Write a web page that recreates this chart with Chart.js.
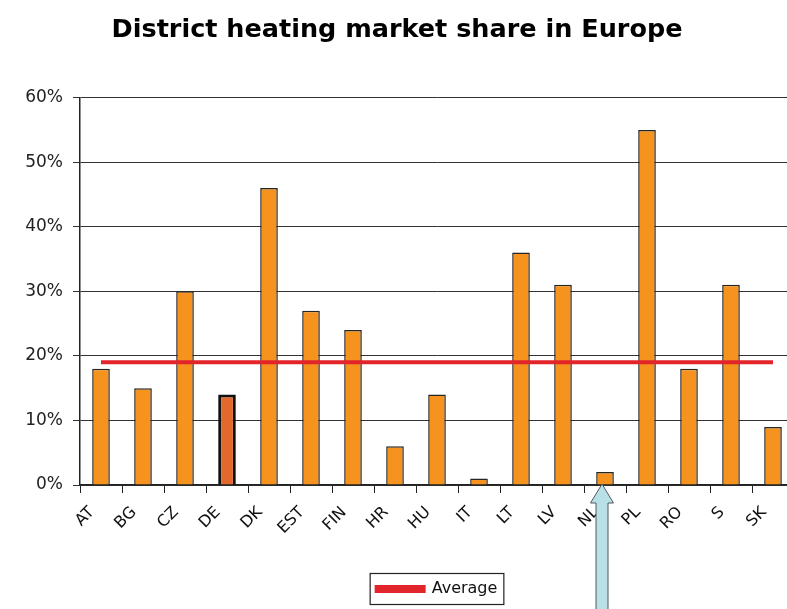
<!DOCTYPE html>
<html>
<head>
<meta charset="utf-8">
<title>District heating market share in Europe</title>
<script src="https://cdn.jsdelivr.net/npm/chart.js@4.4.1/dist/chart.umd.min.js"></script>
<style>
    html, body { margin: 0; padding: 0; background: #fff; overflow: hidden; }
    #wrap { width: 808px; height: 609px; position: relative; }
</style>
</head>
<body>
<div id="wrap"><canvas id="chart"></canvas></div>
<script>
// Market share per country, in percent
const countries = ['AT', 'BG', 'CZ', 'DE', 'DK', 'EST', 'FIN', 'HR', 'HU', 'IT', 'LT', 'LV', 'NL', 'PL', 'RO', 'S', 'SK'];
const marketShare = [18, 15, 30, 14, 46, 27, 24, 6, 14, 1, 36, 31, 2, 55, 18, 31, 9];
const averageShare = [19, 19, 19, 19, 19, 19, 19, 19, 19, 19, 19, 19, 19, 19, 19, 19, 19];
const yTicks = [0, 10, 20, 30, 40, 50, 60];

const highlighted = 'DE';   // drawn darker with a heavy border
const arrowAt = 'NL';       // blue arrow points at this country

const FONT = '"DejaVu Sans", "Liberation Sans", Arial, sans-serif';

// light blue arrow pointing up at one category
const arrowPlugin = {
    id: 'arrow',
    afterDraw(chart) {
        const { ctx } = chart;
        const x = chart.scales.x.getPixelForValue(countries.indexOf(arrowAt)) - 3;
        const tip = chart.scales.y.getPixelForValue(0) - 1;
        const headW = 11.5, headH = 19, shaftW = 6;
        const bottom = chart.height + 5;
        ctx.save();
        ctx.beginPath();
        ctx.moveTo(x, tip);
        ctx.lineTo(x + headW, tip + headH);
        ctx.lineTo(x + shaftW, tip + headH);
        ctx.lineTo(x + shaftW, bottom);
        ctx.lineTo(x - shaftW, bottom);
        ctx.lineTo(x - shaftW, tip + headH);
        ctx.lineTo(x - headW, tip + headH);
        ctx.closePath();
        ctx.fillStyle = '#b8e0e6';
        ctx.fill();
        ctx.lineWidth = 1;
        ctx.strokeStyle = '#4d5a5c';
        ctx.stroke();
        ctx.restore();
    }
};

// frame around the legend, like the spreadsheet legend box
const legendBoxPlugin = {
    id: 'legendBox',
    afterDraw(chart) {
        const hb = chart.legend && chart.legend.legendHitBoxes[0];
        if (!hb) return;
        const { ctx } = chart;
        ctx.save();
        ctx.strokeStyle = '#222';
        ctx.lineWidth = 1.2;
        ctx.strokeRect(hb.left - 6.5, hb.top - 7.5, hb.width + 13, hb.height + 15);
        ctx.restore();
    }
};

new Chart(document.getElementById('chart'), {
    data: {
        labels: countries,
        datasets: [
            {
                type: 'line',
                label: 'Average',
                data: averageShare,
                borderColor: '#e2252b',
                backgroundColor: '#e2252b',
                borderWidth: 4,
                pointRadius: 0,
                order: 0
            },
            {
                type: 'bar',
                label: 'Share',
                data: marketShare,
                backgroundColor: ctx => countries[ctx.dataIndex] === highlighted ? '#e4682c' : '#f5931e',
                borderColor: ctx => countries[ctx.dataIndex] === highlighted ? '#111' : '#262626',
                borderWidth: ctx => countries[ctx.dataIndex] === highlighted ? 3 : 1.5,
                barPercentage: 0.42,
                categoryPercentage: 1,
                order: 1
            }
        ]
    },
    options: {
        responsive: true,
        maintainAspectRatio: false,
        animation: false,
        layout: { padding: { left: 0, right: 14, top: 0, bottom: 2 } },
        plugins: {
            title: {
                display: true,
                text: 'District heating market share in Europe',
                color: '#000',
                font: { family: FONT, size: 25.5, weight: 'bold' },
                padding: { top: 15, bottom: 52 }
            },
            legend: {
                position: 'bottom',
                fullSize: false,
                labels: {
                    filter: item => item.datasetIndex === 0,
                    boxWidth: 47,
                    boxHeight: 4,
                    padding: 10,
                    color: '#111',
                    font: { family: FONT, size: 16 }
                }
            },
            tooltip: { enabled: false }
        },
        scales: {
            x: {
                grid: {
                    offset: true,
                    drawOnChartArea: false,
                    tickLength: 8,
                    color: '#222'
                },
                border: { color: '#222', width: 1.5 },
                ticks: {
                    minRotation: 45,
                    maxRotation: 45,
                    padding: 10,
                    labelOffset: -9,
                    color: '#111',
                    font: { family: FONT, size: 16 }
                },
                afterFit: s => { s.height = 86; }
            },
            y: {
                min: 0,
                max: 60,
                afterBuildTicks: s => { s.ticks = yTicks.map(v => ({ value: v })); },
                grid: { color: '#333', lineWidth: 1, tickLength: 7 },
                border: { color: '#222', width: 1.5 },
                ticks: {
                    padding: 10,
                    color: '#222',
                    font: { family: FONT, size: 17 },
                    callback: v => v + '%'
                },
                afterFit: s => { s.width = 80; }
            }
        }
    },
    plugins: [arrowPlugin, legendBoxPlugin]
});
</script>
</body>
</html>
